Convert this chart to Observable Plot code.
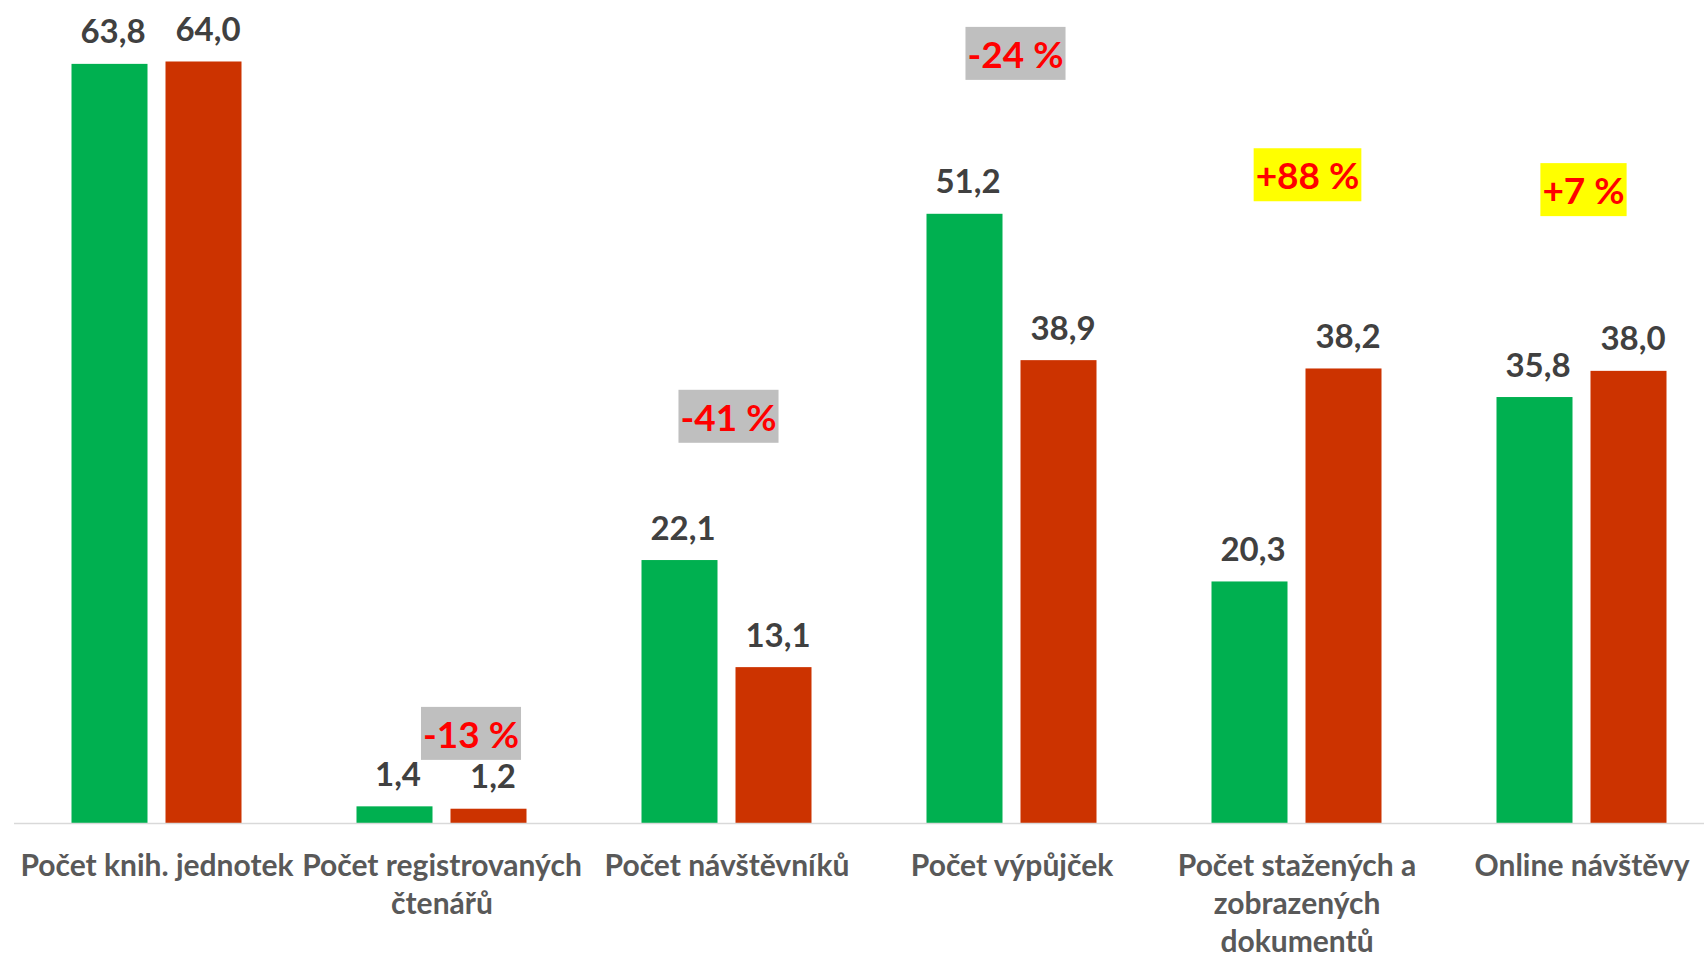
<!DOCTYPE html>
<html>
<head>
<meta charset="utf-8">
<script src="https://cdn.jsdelivr.net/npm/d3@7"></script>
<script src="https://cdn.jsdelivr.net/npm/@observablehq/plot@0.6"></script>
<style>
  html, body { margin: 0; padding: 0; background: #ffffff; }
  #chart svg { font-family: Lato, "Open Sans", "DejaVu Sans", sans-serif; background: #ffffff; }
</style>
</head>
<body>
<div id="chart"></div>
<script>
// ---- data ----
const categories = [
  "Počet knih. jednotek",
  "Počet registrovaných čtenářů",
  "Počet návštěvníků",
  "Počet výpůjček",
  "Počet stažených a zobrazených dokumentů",
  "Online návštěvy"
];
const tickLabels = [
  "Počet knih. jednotek",
  "Počet registrovaných\nčtenářů",
  "Počet návštěvníků",
  "Počet výpůjček",
  "Počet stažených a\nzobrazených\ndokumentů",
  "Online návštěvy"
];
const valuesFirst  = [63.8, 1.4, 22.1, 51.2, 20.3, 35.8];
const valuesSecond = [64.0, 1.2, 13.1, 38.9, 38.2, 38.0];
const changeLabels = ["", "-13 %", "-41 %", "-24 %", "+88 %", "+7 %"];
// vertical anchor of each change badge, in data units
const changeAnchor = [null, 7.35, 34.0, 64.5, 54.3, 53.05];

// ---- layout / style ----
const W = 1704, H = 957;
const step = 285;
const green = "#00B050", red = "#CC3300";
const badgeShift = [0, 29, 1.5, 3.5, 10.5, 1.5];

const fmt = v => d3.format(".1f")(v).replace(".", ",");
const rows = categories.map((c, i) => ({category: c, first: valuesFirst[i], second: valuesSecond[i]}));
const badges = categories
  .map((c, i) => ({category: c, label: changeLabels[i], y: changeAnchor[i], shift: badgeShift[i]}))
  .filter(d => d.label);

const valueText = {fontSize: 33, fontWeight: "bold", fill: "#404040", lineAnchor: "bottom", dy: -21};

const chart = Plot.plot({
  width: W,
  height: H,
  marginLeft: 14,
  marginRight: 0,
  marginTop: 2,
  marginBottom: 134,
  x: {type: "band", domain: categories, range: [14, 14 + step * categories.length], padding: 0},
  y: {domain: [0, 69], axis: null},
  marks: [
    Plot.barY(rows, {x: "category", y: "first", fill: green, insetLeft: 57.5, insetRight: 151.5}),
    Plot.barY(rows, {x: "category", y: "second", fill: red, insetLeft: 151.5, insetRight: 57.5}),
    Plot.ruleY([0], {stroke: "#D9D9D9", strokeWidth: 1.5}),
    Plot.axisX({
      label: null,
      tickSize: 0,
      tickPadding: 25,
      fontSize: 30,
      fontWeight: "bold",
      fill: "#595959",
      lineHeight: 1.27,
      textOverflow: null,
      tickFormat: d => tickLabels[categories.indexOf(d)]
    }),
    Plot.text(rows, {x: "category", y: "first", text: d => fmt(d.first), dx: -44, ...valueText}),
    Plot.text(rows, {x: "category", y: "second", text: d => fmt(d.second), dx: 51, ...valueText}),
    ...badges.map(b => Plot.text([b], {
      x: "category", y: "y", text: "label", dx: b.shift,
      fontSize: 37, fontWeight: "bold", fill: "#FF0000",
      lineAnchor: "middle", className: "badge"
    }))
  ]
});

document.getElementById("chart").appendChild(chart);

// background boxes behind the change badges
chart.querySelectorAll("g.badge text").forEach(t => {
  const bb = t.getBBox();
  const label = t.textContent.trim();
  const rect = document.createElementNS("http://www.w3.org/2000/svg", "rect");
  const cy = bb.y + bb.height / 2;
  rect.setAttribute("x", bb.x - 2);
  rect.setAttribute("width", bb.width + 4);
  rect.setAttribute("y", cy - 26.5);
  rect.setAttribute("height", 53);
  rect.setAttribute("fill", label.startsWith("+") ? "#FFFF00" : "#BFBFBF");
  rect.setAttribute("stroke", "none");
  if (t.getAttribute("transform")) rect.setAttribute("transform", t.getAttribute("transform"));
  t.parentNode.insertBefore(rect, t);
});
</script>
</body>
</html>
